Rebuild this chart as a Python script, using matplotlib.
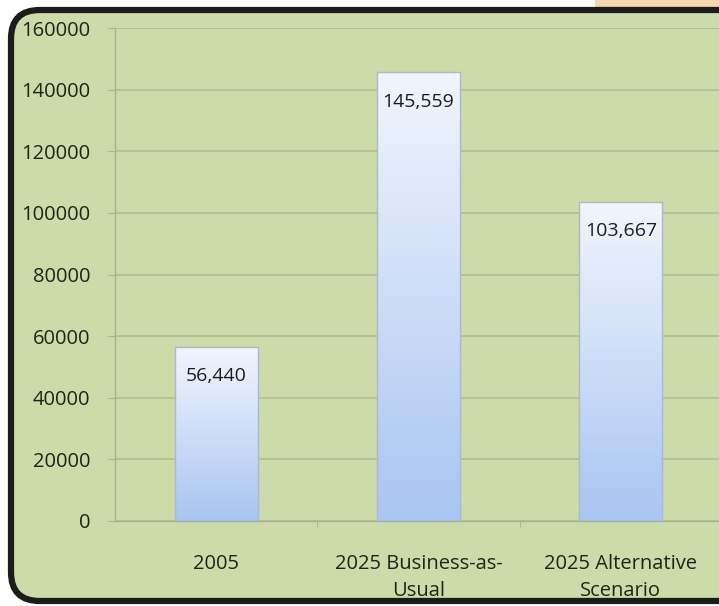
import matplotlib
matplotlib.use("Agg")
import matplotlib.pyplot as plt
import numpy as np
from matplotlib.patches import FancyBboxPatch, Rectangle
from matplotlib.colors import LinearSegmentedColormap

categories = ["2005", "2025 Business-as-\nUsual", "2025 Alternative\nScenario"]
values = [56440, 145559, 103667]
value_labels = ["56,440", "145,559", "103,667"]
yticks = [0, 20000, 40000, 60000, 80000, 100000, 120000, 140000, 160000]

plt.rcParams['font.family'] = ['Open Sans', 'DejaVu Sans']

W, H = 719, 606
fig = plt.figure(figsize=(W/100, H/100), dpi=100, facecolor='white')

# peach strip top-right
fig.patches.append(Rectangle((595/W, 1 - 12/H), (W-595)/W, 12/H, transform=fig.transFigure,
                             facecolor='#f3d8b3', edgecolor='none', zorder=0))
# rounded green panel with black border
fig.patches.append(FancyBboxPatch((11/W, 5/H), (W+30)/W, (H-15)/H,
                                  boxstyle="round,pad=0,rounding_size=0.04",
                                  transform=fig.transFigure, mutation_aspect=W/H,
                                  facecolor='#cddaa9', edgecolor='#1c1c1a', linewidth=4.5, zorder=1))

ax = fig.add_axes([115/W, (H-521)/H, (722-115)/W, (521-28)/H])
ax.set_facecolor('none')
ax.set_zorder(2)

x = np.arange(len(values))
bw = 0.41
bars = ax.bar(x, values, width=bw, color='none', edgecolor='#a9b9cf', linewidth=1.0, zorder=3)

# gradient fill
grad = np.linspace(0, 1, 256).reshape(-1, 1)
cmap = LinearSegmentedColormap.from_list('g', ['#a9c5f2', '#f2f5fd'])
for b in bars:
    x0, y0 = b.get_x(), b.get_y()
    w, h = b.get_width(), b.get_height()
    im = ax.imshow(grad, extent=[x0, x0 + w, y0, y0 + h], origin='lower', cmap=cmap,
                   aspect='auto', zorder=2.5)
    im.set_clip_path(b)

for xi, v, lab in zip(x, values, value_labels):
    ax.text(xi, v - 9500, lab, ha='center', va='center', fontsize=14, color='#1c1c1c', zorder=4)

ax.set_xlim(-0.5, 2.5)
ax.set_ylim(0, 160000)
ax.set_yticks(yticks)
ax.set_yticklabels([str(t) for t in yticks])
ax.set_xticks(x)
ax.set_xticklabels(categories, linespacing=1.45)
ax.set_xticks([0.5, 1.5], minor=True)
ax.tick_params(axis='x', which='major', length=0, pad=24, labelsize=14.5, labelcolor='#1f2616')
ax.tick_params(axis='x', which='minor', length=4, color='#a8b48e', direction='out')
ax.tick_params(axis='y', length=5, color='#a8b48e', pad=13, labelsize=14.5, labelcolor='#1f2616')
ax.grid(axis='y', color='#b2bf98', linewidth=1.3, zorder=1)
ax.set_axisbelow(True)
for s in ['top', 'right']:
    ax.spines[s].set_visible(False)
for s in ['left', 'bottom']:
    ax.spines[s].set_color('#a8b48e')
    ax.spines[s].set_linewidth(1.0)

fig.savefig('out.png', dpi=100, facecolor='white')
